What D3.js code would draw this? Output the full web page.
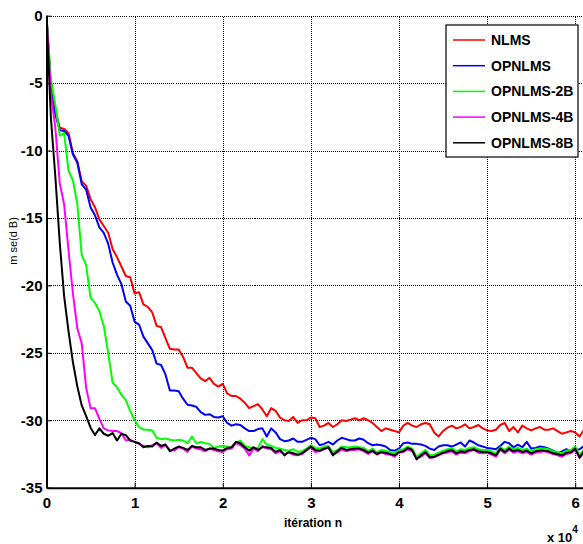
<!DOCTYPE html>
<head>
  <title>MSE curves</title>
  <meta charset="utf-8">
  <script type="text/javascript" src="https://d3js.org/d3.v7.min.js"></script>
  <style>
    body {
      margin: 0;
      background: white;
    }
    text {
      font-family: "Liberation Sans", Arial, sans-serif;
      font-weight: bold;
      fill: black;
    }
    .grid line {
      stroke: #000;
      stroke-width: 1;
      stroke-dasharray: 1, 1;
      shape-rendering: crispEdges;
    }
    .grid path { display: none; }
    path.curve {
      fill: none;
      stroke-width: 2;
      stroke-linejoin: round;
    }
  </style>
</head>

<body>
<script type="text/javascript">
// iteration grid, one point every 500 iterations
const iterations = d3.range(0, 61001, 500);

const seriesNames = ['NLMS', 'OPNLMS', 'OPNLMS-2B', 'OPNLMS-4B', 'OPNLMS-8B'];
const seriesColors = ['#ff0000', '#0000ff', '#00ff00', '#ff00ff', '#000000'];

const nlms = [0, -5.2, -7.0, -8.3, -8.4, -8.7, -10.2, -10.8, -12.3, -12.6,
  -13.6, -14.2, -15.1, -15.6, -16.1, -17.3, -17.9, -18.6, -19.3, -19.4,
  -20.6, -20.5, -21.4, -21.6, -22.0, -23.0, -23.1, -23.9, -24.7, -24.75,
  -24.75, -25.3, -26.1, -26.1, -26.5, -26.9, -27.1, -26.85, -27.3, -27.5,
  -27.3, -28.0, -28.2, -28.2, -28.4, -28.7, -29.1, -28.95, -28.8, -29.2,
  -29.7, -29.1, -29.3, -29.8, -30.0, -30.05, -29.75, -30.2, -30.0, -30.0,
  -29.8, -29.85, -30.5, -30.4, -30.2, -30.5, -30.3, -30.0, -30.05, -29.95,
  -29.85, -30.0, -29.85, -30.0, -30.2, -30.5, -30.8, -30.6, -30.7, -30.8,
  -30.9, -30.4, -30.2, -30.4, -30.5, -30.3, -30.2, -30.3, -30.9, -31.2,
  -30.8, -30.55, -30.4, -30.6, -30.5, -30.3, -30.6, -30.5, -30.35, -30.6,
  -30.75, -30.8, -30.7, -30.35, -30.2, -30.8, -30.5, -30.9, -30.4, -30.6,
  -30.75, -30.6, -30.5, -30.7, -30.7, -30.6, -30.8, -31.0, -30.9, -30.8,
  -30.9, -31.2, -30.7];

const opnlms = [0, -5.6, -7.3, -8.5, -8.55, -8.9, -10.3, -10.9, -12.5, -12.9,
  -14.2, -14.8, -15.7, -16.1, -16.9, -18.3, -19.2, -19.9, -21.2, -21.5,
  -22.7, -22.9, -23.8, -24.3, -24.8, -25.8, -25.9, -26.6, -27.8, -27.8,
  -27.85, -28.4, -28.85, -28.9, -29.0, -29.4, -29.6, -29.55, -29.75, -29.8,
  -29.7, -30.2, -30.4, -30.3, -30.35, -30.6, -30.8, -30.8, -30.65, -30.6,
  -31.2, -30.6, -30.9, -31.4, -31.55, -31.5, -31.35, -31.6, -31.6, -31.45,
  -31.3, -31.4, -31.85, -31.75, -31.6, -31.8, -31.5, -31.3, -31.4, -31.5,
  -31.5, -31.35, -31.45, -31.7, -31.85, -31.8, -31.85, -31.95, -32.2, -32.25,
  -32.1, -31.7, -31.65, -31.75, -31.75, -31.8, -31.9, -32.1, -32.2, -31.95,
  -31.85, -31.85, -31.95, -31.8, -31.65, -31.95, -31.5, -31.65, -31.85, -31.95,
  -32.05, -32.1, -32.15, -31.9, -31.6, -31.7, -32.0, -31.8, -32.0, -31.6,
  -32.1, -32.05, -31.95, -32.0, -32.1, -32.25, -32.45, -32.3, -32.15, -32.3,
  -32.2, -32.15, -31.9];

const opnlms2b = [0, -4.7, -6.6, -8.9, -8.7, -11.5, -12.2, -14.0, -17.75, -18.5,
  -20.9, -21.3, -21.9, -23.0, -25.0, -27.2, -27.55, -28.1, -28.5, -29.3,
  -30.0, -30.5, -30.7, -30.7, -30.75, -31.3, -31.4, -31.35, -31.45, -31.5,
  -31.45, -31.5, -31.7, -31.2, -31.7, -31.6, -31.7, -31.75, -32.05, -31.95,
  -31.9, -31.95, -32.05, -31.7, -31.5, -31.9, -32.0, -32.05, -32.05, -31.4,
  -31.8, -31.9, -32.05, -32.1, -32.2, -32.25, -32.15, -32.35, -32.3, -32.1,
  -31.85, -32.05, -32.1, -31.95, -31.9, -32.4, -32.2, -31.95, -32.0, -32.0,
  -31.95, -32.0, -32.05, -32.3, -32.1, -32.4, -32.2, -32.25, -32.35, -32.45,
  -32.2, -32.15, -31.95, -32.1, -32.7, -32.45, -32.2, -32.6, -32.55, -32.4,
  -32.25, -32.15, -32.05, -32.3, -32.15, -32.2, -32.05, -32.0, -32.15, -32.2,
  -32.2, -32.3, -32.45, -32.0, -32.2, -31.95, -32.15, -32.05, -32.2, -32.1,
  -32.3, -32.15, -32.1, -32.1, -32.15, -32.3, -32.35, -32.45, -32.25, -32.2,
  -31.95, -32.6, -32.15];

const opnlms4b = [0, -5.8, -8.3, -12.4, -14.0, -17.4, -20.6, -23.2, -24.3, -27.6,
  -29.1, -29.1, -29.9, -30.6, -30.75, -30.8, -30.8, -30.95, -31.5, -31.45,
  -31.6, -31.75, -31.9, -32.0, -31.85, -31.7, -32.05, -31.85, -32.2, -32.25,
  -32.0, -32.1, -32.35, -31.95, -32.1, -32.15, -32.3, -32.1, -32.2, -32.3,
  -32.35, -32.15, -32.1, -31.7, -31.85, -32.1, -32.6, -32.1, -32.3, -31.9,
  -32.1, -32.15, -32.45, -32.3, -32.5, -32.4, -32.55, -32.6, -32.5, -32.25,
  -32.0, -32.35, -32.3, -32.15, -32.05, -32.55, -32.4, -32.15, -32.3, -32.2,
  -32.2, -32.15, -32.3, -32.5, -32.3, -32.55, -32.4, -32.5, -32.55, -32.7,
  -32.4, -32.35, -32.15, -32.3, -32.85, -32.7, -32.45, -32.8, -32.75, -32.6,
  -32.45, -32.4, -32.3, -32.55, -32.4, -32.45, -32.3, -32.2, -32.4, -32.45,
  -32.4, -32.55, -32.7, -32.2, -32.45, -32.2, -32.4, -32.3, -32.45, -32.35,
  -32.55, -32.4, -32.35, -32.3, -32.4, -32.5, -32.6, -32.7, -32.5, -32.45,
  -32.2, -32.8, -32.4];

const opnlms8b = [0, -7.6, -11.9, -16.8, -20.8, -23.4, -25.7, -27.5, -28.9, -29.7,
  -30.55, -31.1, -30.6, -31.0, -31.15, -30.95, -31.5, -31.0, -31.1, -31.5,
  -31.6, -31.7, -32.0, -31.9, -31.95, -31.65, -31.9, -31.8, -32.3, -32.1,
  -31.95, -32.05, -32.2, -31.9, -32.0, -32.0, -32.2, -32.1, -32.1, -32.2,
  -32.25, -32.05, -32.0, -31.6, -31.7, -32.0, -32.25, -32.0, -32.2, -32.0,
  -32.0, -32.05, -32.35, -32.2, -32.6, -32.35, -32.45, -32.55, -32.45, -32.2,
  -31.95, -32.2, -32.25, -32.1, -32.0, -32.6, -32.3, -32.05, -32.2, -32.15,
  -32.1, -32.1, -32.2, -32.4, -32.25, -32.5, -32.35, -32.4, -32.5, -32.6,
  -32.35, -32.3, -32.05, -32.2, -32.9, -32.6, -32.35, -32.75, -32.7, -32.55,
  -32.4, -32.3, -32.2, -32.45, -32.3, -32.35, -32.2, -32.15, -32.3, -32.35,
  -32.35, -32.45, -32.6, -32.1, -32.35, -32.1, -32.3, -32.2, -32.35, -32.25,
  -32.45, -32.3, -32.25, -32.25, -32.3, -32.45, -32.5, -32.6, -32.4, -32.35,
  -32.1, -32.75, -32.3];

const allSeries = [nlms, opnlms, opnlms2b, opnlms4b, opnlms8b];

const xTicks = [0, 10000, 20000, 30000, 40000, 50000, 60000];
const yTicks = [-35, -30, -25, -20, -15, -10, -5, 0];

const width = 583, height = 544;
const plotLeft = 46.5, plotTop = 15.7, plotBottom = 487.7, plotRight = 584;

const svg = d3.select('body').append('svg')
  .attr('width', width)
  .attr('height', height);

const x = d3.scaleLinear().domain([0, 61000]).range([plotLeft, plotRight]);
const y = d3.scaleLinear().domain([-35, 0]).range([plotBottom, plotTop]);

// dotted grid
svg.append('g')
  .attr('class', 'grid')
  .attr('transform', `translate(0,${plotBottom})`)
  .call(d3.axisBottom(x).tickValues(xTicks.slice(1)).tickSize(-(plotBottom - plotTop)).tickFormat(''));
svg.append('g')
  .attr('class', 'grid')
  .attr('transform', `translate(${plotLeft},0)`)
  .call(d3.axisLeft(y).tickValues(yTicks.slice(1)).tickSize(-(plotRight - plotLeft)).tickFormat(''));

svg.append('defs').append('clipPath').attr('id', 'plot')
  .append('rect').attr('x', plotLeft).attr('y', plotTop - 2)
  .attr('width', plotRight - plotLeft).attr('height', plotBottom - plotTop + 2);

const line = d3.line()
  .x((d, i) => x(iterations[i]))
  .y(d => y(d));

svg.append('g').attr('clip-path', 'url(#plot)')
  .selectAll('path')
  .data(allSeries)
  .enter()
  .append('path')
  .attr('class', 'curve')
  .attr('d', line)
  .attr('stroke', (d, i) => seriesColors[i]);

// axes
const xAxis = svg.append('g')
  .attr('transform', `translate(0,${plotBottom})`)
  .call(d3.axisBottom(x).tickValues(xTicks).tickFormat(d => d / 10000)
    .tickSizeInner(-5).tickSizeOuter(0).tickPadding(10));
const yAxis = svg.append('g')
  .attr('transform', `translate(${plotLeft},0)`)
  .call(d3.axisLeft(y).tickValues(yTicks).tickFormat(d => d)
    .tickSizeInner(-5).tickSizeOuter(0).tickPadding(4));

[xAxis, yAxis].forEach(g => {
  g.select('.domain').attr('stroke', '#000').attr('stroke-width', 2);
  g.selectAll('.tick line').attr('stroke', '#000').attr('stroke-width', 1);
  g.selectAll('.tick text')
    .style('font-size', '15px')
    .style('font-family', '"Liberation Sans", Arial, sans-serif')
    .style('font-weight', 'bold');
});

// axis titles
svg.append('text')
  .attr('x', 313).attr('y', 527)
  .attr('text-anchor', 'middle')
  .style('font-size', '12px')
  .text('itération n');

svg.append('text')
  .attr('transform', 'translate(17,241) rotate(-90)')
  .attr('text-anchor', 'middle')
  .style('font-size', '11px')
  .style('font-weight', 'normal')
  .text('m se(d B)');

const expo = svg.append('text')
  .attr('x', 547).attr('y', 542)
  .style('font-size', '13px');
expo.append('tspan').text('x 10');
expo.append('tspan').attr('dy', -9).style('font-size', '10px').text('4');

// legend
const legend = svg.append('g');
legend.append('rect')
  .attr('x', 446).attr('y', 25)
  .attr('width', 132).attr('height', 132)
  .attr('fill', 'white')
  .attr('stroke', '#000')
  .attr('stroke-width', 1.2);

const rows = legend.selectAll('g.row')
  .data(seriesNames)
  .enter()
  .append('g')
  .attr('class', 'row')
  .attr('transform', (d, i) => `translate(0,${40 + i * 25.7})`);
rows.append('line')
  .attr('x1', 453).attr('x2', 485)
  .attr('stroke', (d, i) => seriesColors[i])
  .attr('stroke-width', 1.5);
rows.append('text')
  .attr('x', 491).attr('y', 0).attr('dy', '0.36em')
  .style('font-size', '14px')
  .text(d => d);
</script>
</body>
